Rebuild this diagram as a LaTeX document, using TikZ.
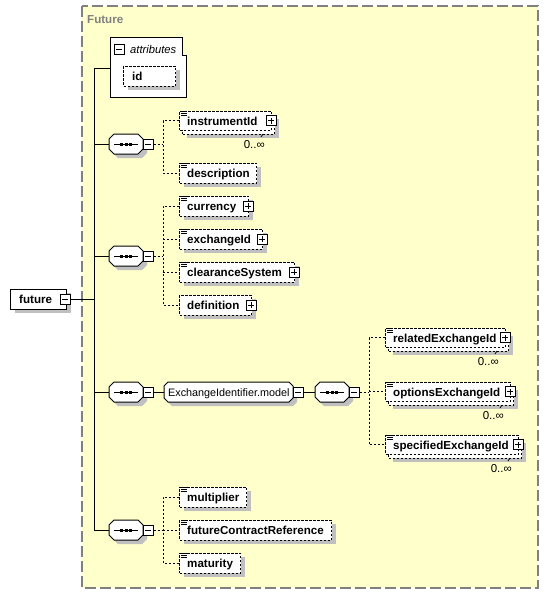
\documentclass[tikz,border=0pt]{standalone}
\usepackage{fontspec}
\newfontfamily\lsans{Liberation Sans}
\usetikzlibrary{shadows}
\definecolor{panelbg}{HTML}{FFFFCC}
\definecolor{panelln}{HTML}{808080}
\definecolor{shgray}{HTML}{C0C0C0}
\tikzset{
  conn/.style={line width=1pt,draw=black},
  dconn/.style={line width=1pt,draw=black,dash pattern=on 2pt off 2pt},
  panel/.style={draw=panelln,fill=panelbg,line width=1.2pt,dash pattern=on 11pt off 4pt},
  shad/.style={drop shadow={shadow xshift=4pt,shadow yshift=-4pt,fill=shgray,opacity=1}},
  ebox/.style={rectangle,draw=black,fill=white,line width=1pt,dash pattern=on 2.5pt off 1.5pt,inner sep=0pt,minimum height=20pt,anchor=west},
  sbox/.style={rectangle,draw=black,fill=white,line width=1pt,inner sep=0pt,minimum height=20pt,anchor=west},
  etext/.style={inner sep=0pt,anchor=base west,font=\lsans\bfseries\fontsize{11.6}{13}\selectfont},
  rtext/.style={inner sep=0pt,anchor=base west,font=\lsans\fontsize{10.8}{13}\selectfont},
  occ/.style={inner sep=0pt,anchor=base east,font=\lsans\fontsize{11.5}{13}\selectfont},
  pmbase/.style={rectangle,draw=black,fill=white,line width=1pt,minimum size=10pt,inner sep=0pt,drop shadow={shadow xshift=0.8pt,shadow yshift=-0.8pt,fill=black,opacity=1}},
  minusbox/.style={pmbase,path picture={\draw[line width=1pt] ([xshift=2pt]path picture bounding box.west) -- ([xshift=-2pt]path picture bounding box.east);}},
  plusbox/.style={pmbase,path picture={\draw[line width=1pt] ([xshift=2pt]path picture bounding box.west) -- ([xshift=-2pt]path picture bounding box.east); \draw[line width=1pt] ([yshift=-2pt]path picture bounding box.north) -- ([yshift=2pt]path picture bounding box.south);}},
  iconln/.style={line width=0.75pt,draw=black},
}
\newcommand\XOct[6]{\path[#6] ({#1+#5},{#2}) -- ({#3-#5},{#2}) -- ({#3},{#2+#5}) -- ({#3},{#4-#5}) -- ({#3-#5},{#4}) -- ({#1+#5},{#4}) -- ({#1},{#4-#5}) -- ({#1},{#2+#5}) -- cycle;}
\newcommand\XSeq[3]{%
  \XOct{#2+4}{#3-6}{#2+38}{#3+14}{5}{fill=shgray}
  \XOct{#2}{#3-10}{#2+34}{#3+10}{5}{draw=black,fill=white,line width=1pt}
  \node[inner sep=0pt,minimum width=34pt,minimum height=20pt,anchor=west] (#1) at ({#2},{#3}) {};
  \draw[line width=1pt] ({#2+5},{#3}) -- ({#2+29},{#3});
  \fill ({#2+11},{#3-1.5}) rectangle ++(3,3);
  \fill ({#2+15.5},{#3-1.5}) rectangle ++(3,3);
  \fill ({#2+20},{#3-1.5}) rectangle ++(3,3);
  \node[minusbox] (#1-m) at ({#2+39},{#3}) {};
}
\newcommand\XIcon[2]{\draw[iconln] ({#1+2},{#2}) -- ({#1+8},{#2}) ({#1+2},{#2+2}) -- ({#1+8},{#2+2}) ({#1+2},{#2+4}) -- ({#1+8},{#2+4});}
\newcommand\XElem[6]{%
  \node[ebox,shad,minimum width=#4pt] (#1) at ({#2},{#3}) {};
  \ifnum#6=1 \XIcon{#2}{#3-10}\fi
  \node[etext] (#1-t) at ({#2+8},{#3+4}) {#5};
}
\newcommand\XMulti[5]{%
  \node[ebox,shad,minimum width=#4pt,minimum height=19pt] (#1-b) at ({#2+3},{#3+3.5}) {};
  \node[ebox,minimum width=#4pt,minimum height=19pt] (#1) at ({#2},{#3-0.5}) {};
  \XIcon{#2}{#3-10}
  \node[etext] (#1-t) at ({#2+8},{#3+4}) {#5};
  \node[occ] (#1-o) at ({#2+#4-6},{#3+27.5}) {0..∞};
  \draw[line width=0.8pt] ({#2+#4-8},{#3+13}) -- ({#2+#4-10},{#3+16});
}
\begin{document}
\begin{tikzpicture}[x=1pt,y=-1pt]
\useasboundingbox (0,0) rectangle (548,595);
\draw[panel] (82,6) rectangle (538,588);
\node[etext,text=panelln] (title) at (87,23) {Future};

% attributes
\path[draw=black,fill=white,line width=1pt] (110,37) -- (182,37) -- (182,55) -- (186,55) -- (186,97) -- (110,97) -- cycle;
\coordinate (attrW) at (110,68);
\node[minusbox] (attr-m) at (119,49) {};
\node[inner sep=0pt,anchor=base west,font=\lsans\itshape\fontsize{11.2}{13}\selectfont] (attr-t) at (130,53) {attributes};
\node[ebox,shad,minimum width=52pt] (id) at (123,76) {};
\node[etext] (id-t) at (132,80) {id};

% future
\node[sbox,shad,minimum width=56pt] (fut) at (10,299) {};
\node[etext] (fut-t) at (19,303) {future};
\node[minusbox] (fut-m) at (65,299) {};
\coordinate (tk) at (94,0);

% sequences
\XSeq{s1}{109}{144}
\XSeq{s2}{109}{256}
\XSeq{s3}{109}{392}
\XSeq{s4}{109}{530}

\draw[conn] (attrW) -- (attrW -| tk) -- (s4.west -| tk) -- (s4.west);
\draw[conn] (s1.west -| tk) -- (s1.west);
\draw[conn] (s2.west -| tk) -- (s2.west);
\draw[conn] (s3.west -| tk) -- (s3.west);
\draw[conn] (fut-m.east) -- (fut-m.east -| tk);

% row 1
\XMulti{instr}{179}{121}{92}{instrumentId}
\node[plusbox] (instr-p) at (271,120.5) {};
\XElem{desc}{179}{173}{77}{description}{1}
\coordinate (b1) at (163,144);
\draw[dconn] (s1-m.east) -- (b1);
\draw[dconn] (instr.west) -- (instr.west -| b1) -- (desc.west -| b1) -- (desc.west);

% row 2
\XElem{curr}{179}{206}{69}{currency}{1}
\node[plusbox] (curr-p) at (248,206) {};
\XElem{exch}{179}{239}{83}{exchangeId}{1}
\node[plusbox] (exch-p) at (262,239) {};
\XElem{clear}{179}{272}{115}{clearanceSystem}{1}
\node[plusbox] (clear-p) at (294,272) {};
\XElem{defn}{179}{305}{72}{definition}{0}
\node[plusbox] (defn-p) at (251,305) {};
\coordinate (b2) at (163,256);
\draw[dconn] (s2-m.east) -- (b2);
\draw[dconn] (curr.west) -- (curr.west -| b2) -- (defn.west -| b2) -- (defn.west);
\draw[dconn] (exch.west -| b2) -- (exch.west);
\draw[dconn] (clear.west -| b2) -- (clear.west);

% row 3
\XOct{168}{386}{297}{406}{4}{fill=shgray}
\XOct{164}{382}{293}{402}{4}{draw=black,fill=white,line width=1pt}
\node[inner sep=0pt,minimum width=129pt,minimum height=20pt,anchor=west] (grp) at (164,392) {};
\node[rtext] (grp-t) at (168,396) {ExchangeIdentifier.model};
\node[minusbox] (grp-m) at (298,392) {};
\XSeq{s5}{315}{392}
\draw[conn] (s3-m.east) -- (grp.west);
\draw[conn] (grp-m.east) -- (s5.west);
\XMulti{rel}{385}{338}{120}{relatedExchangeId}
\node[plusbox] (rel-p) at (505,337.5) {};
\XMulti{opt}{385}{392}{125}{optionsExchangeId}
\node[plusbox] (opt-p) at (510,391.5) {};
\XMulti{spec}{385}{445}{133}{specifiedExchangeId}
\node[plusbox] (spec-p) at (518,444.5) {};
\coordinate (b3) at (369,392);
\draw[dconn] (s5-m.east) -- (b3);
\draw[dconn] (rel.west) -- (rel.west -| b3) -- (spec.west -| b3) -- (spec.west);
\draw[dconn] (opt.west -| b3) -- (opt.west);

% row 4
\XElem{mult}{179}{497}{67}{multiplier}{1}
\XElem{fcr}{179}{530}{152}{futureContractReference}{1}
\XElem{mat}{179}{563}{61}{maturity}{1}
\coordinate (b4) at (163,530);
\draw[dconn] (s4-m.east) -- (b4);
\draw[dconn] (mult.west) -- (mult.west -| b4) -- (mat.west -| b4) -- (mat.west);
\draw[dconn] (fcr.west -| b4) -- (fcr.west);
\end{tikzpicture}
\end{document}
